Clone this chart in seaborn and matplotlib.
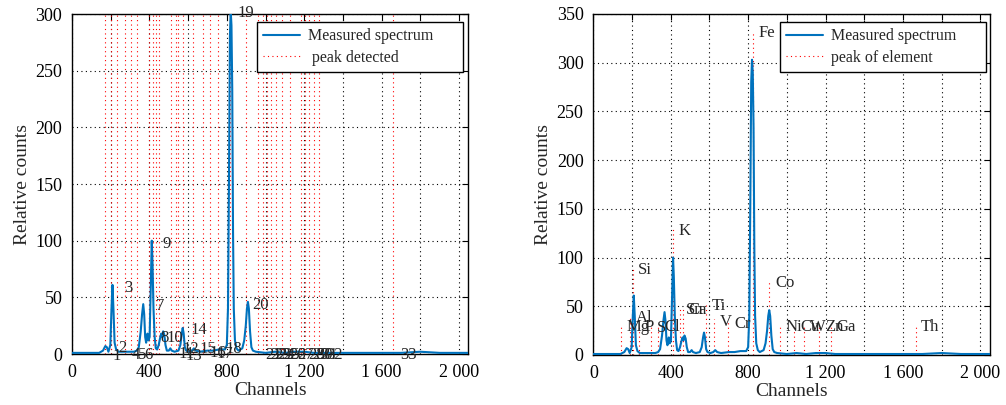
import matplotlib
matplotlib.use("Agg")
import matplotlib.pyplot as plt
import numpy as np
import pandas as pd
import seaborn as sns
from matplotlib.lines import Line2D

# ---------------- data ----------------
spectrum_channels = [0, 50, 100, 140, 160, 172, 180, 188, 198, 204, 209, 214, 220, 228, 240,
                     280, 320, 335, 345, 355, 362, 368, 373, 378, 383, 390, 395, 401, 407, 412,
                     416, 421, 427, 433, 440, 448, 455, 461, 466, 471, 477, 483, 490, 500, 508,
                     515, 530, 550, 560, 567, 572, 577, 583, 590, 605, 620, 630, 640, 660, 700,
                     730, 760, 790, 800, 806, 811, 816, 820, 824, 828, 832, 836, 842, 850, 860,
                     880, 890, 898, 904, 909, 914, 920, 927, 935, 950, 1000, 1050, 1100, 1150,
                     1200, 1250, 1300, 1400, 1500, 1600, 1700, 1800, 1900, 2000, 2048]
spectrum_counts = [1, 1, 1, 1, 3, 7, 6, 2, 8, 40, 61, 40, 10, 4, 2,
                   2, 2, 3, 6, 20, 35, 44, 35, 15, 10, 18, 12, 15, 60, 100,
                   80, 40, 15, 5, 4, 8, 14, 18, 15, 20, 17, 8, 3, 3, 5,
                   3, 2, 3, 8, 18, 23, 18, 6, 3, 2, 3, 5, 3, 2, 3,
                   3, 4, 4, 8, 40, 150, 280, 303, 290, 234, 110, 40, 12, 5, 3,
                   5, 12, 25, 40, 46, 40, 20, 6, 3, 2, 1, 2, 1, 2,
                   2, 1, 1, 1, 1, 1, 1, 2, 1, 1, 1]

peak_ids = [str(i) for i in range(1, 34)]
peak_channels = [172, 203, 234, 272, 306, 336, 398, 419, 434, 450, 513, 536, 548, 574, 625,
                 677, 712, 755, 817, 898, 961, 987, 1008, 1028, 1054, 1085, 1127, 1183,
                 1204, 1225, 1251, 1276, 1659]
peak_label_heights = [-2, 5, 58, -1, -1, -1, 42, 14, 97, 14, 0, 4, -2, 21, 4,
                      1, 0, 4, 301, 43, -1, -1, -1, -1, -1, -1, -1, -1,
                      -1, -1, -1, -1, -1]

elements = ['Mg', 'Al', 'Si', 'P', 'S', 'Cl', 'K', 'Sn', 'Ca', 'Ti', 'V', 'Cr',
            'Fe', 'Co', 'Ni', 'Cu', 'W', 'Zn', 'Ga', 'Th']
element_channels = [142, 192, 204, 238, 298, 336, 410, 450, 462, 583, 626, 698,
                    827, 910, 965, 1039, 1091, 1168, 1229, 1666]
element_heights = [29, 38, 87, 29, 28, 29, 127, 46, 46, 50, 34, 32,
                   330, 74, 29, 29, 29, 29, 29, 29]

x_ticks = list(range(0, 2001, 200))
left_y_ticks = list(range(0, 301, 50))
right_y_ticks = list(range(0, 351, 50))

# ---------------- style ----------------
sns.set_style("white")
plt.rcParams['font.family'] = ['Liberation Serif', 'DejaVu Serif']
plt.rcParams['axes.linewidth'] = 1.0

BLUE = '#0072BD'
DOT = (0, (1, 3))

df = pd.DataFrame({'Channels': spectrum_channels, 'Relative counts': spectrum_counts})

fig = plt.figure(figsize=(10.06, 4.05), dpi=100)
fig.patch.set_facecolor('white')
ax1 = fig.add_axes([0.0716, 0.1259, 0.3939, 0.8395])
ax2 = fig.add_axes([0.5898, 0.1235, 0.3939, 0.8420])


def fmt(v):
    return f"{v:,}".replace(",", " ")


def style_axes(ax, ymax, yticks):
    ax.set_xlim(0, 2048)
    ax.set_ylim(0, ymax)
    ax.set_xticks(x_ticks)
    ax.set_xticklabels([fmt(v) if v % 400 == 0 else '' for v in x_ticks])
    ax.set_yticks(yticks)
    ax.set_yticklabels([str(v) for v in yticks])
    ax.tick_params(direction='in', top=True, right=True, length=4, width=0.8,
                   labelsize=13, pad=7, colors='black')
    ax.grid(True, color='black', linestyle=DOT, linewidth=0.8)
    for s in ax.spines.values():
        s.set_color('black')
        s.set_linewidth(1.0)
    ax.set_xlabel('Channels', fontsize=14, labelpad=1)
    ax.set_ylabel('Relative counts', fontsize=14, labelpad=3)


def add_legend(ax, labels, x0, width, top):
    handles = [Line2D([], [], color=BLUE, lw=1.5),
               Line2D([], [], color='red', ls=DOT, lw=0.8)]
    leg = ax.legend(handles, labels, loc='upper left', mode='expand',
                    bbox_to_anchor=(x0, 0.0, width, top), borderaxespad=0,
                    fontsize=11.5, frameon=True, fancybox=False, edgecolor='black',
                    framealpha=1, handlelength=2.3, handletextpad=0.5,
                    borderpad=0.4, labelspacing=0.35)
    leg.get_frame().set_linewidth(1.0)
    leg.set_zorder(5)
    return leg


# ---- left panel: detected peaks ----
for ch in peak_channels:
    ax1.axvline(ch, color='red', linestyle=DOT, linewidth=0.8, zorder=1)
sns.lineplot(data=df, x='Channels', y='Relative counts', ax=ax1, color=BLUE,
             linewidth=1.5, estimator=None, sort=False, zorder=3)
for pid, ch, h in zip(peak_ids, peak_channels, peak_label_heights):
    ax1.annotate(pid, xy=(ch, h), xytext=(5, 0), textcoords='offset points',
                 ha='left', va='center', fontsize=12, annotation_clip=False, zorder=4)
style_axes(ax1, 300, left_y_ticks)
add_legend(ax1, ['Measured spectrum', ' peak detected'], 0.466, 0.521, 0.9765)

# ---- right panel: element peaks ----
for ch, h in zip(element_channels, element_heights):
    ax2.vlines(ch, 0, h + 3, colors='red', linestyles=DOT, linewidth=0.8, zorder=1)
sns.lineplot(data=df, x='Channels', y='Relative counts', ax=ax2, color=BLUE,
             linewidth=1.5, estimator=None, sort=False, zorder=3)
for el, ch, h in zip(elements, element_channels, element_heights):
    ax2.annotate(el, xy=(ch, h), xytext=(4, 0), textcoords='offset points',
                 ha='left', va='center', fontsize=12, annotation_clip=False, zorder=4)
style_axes(ax2, 350, right_y_ticks)
add_legend(ax2, ['Measured spectrum', 'peak of element'], 0.471, 0.519, 0.977)

fig.savefig('out.png', dpi=100, facecolor='white')
